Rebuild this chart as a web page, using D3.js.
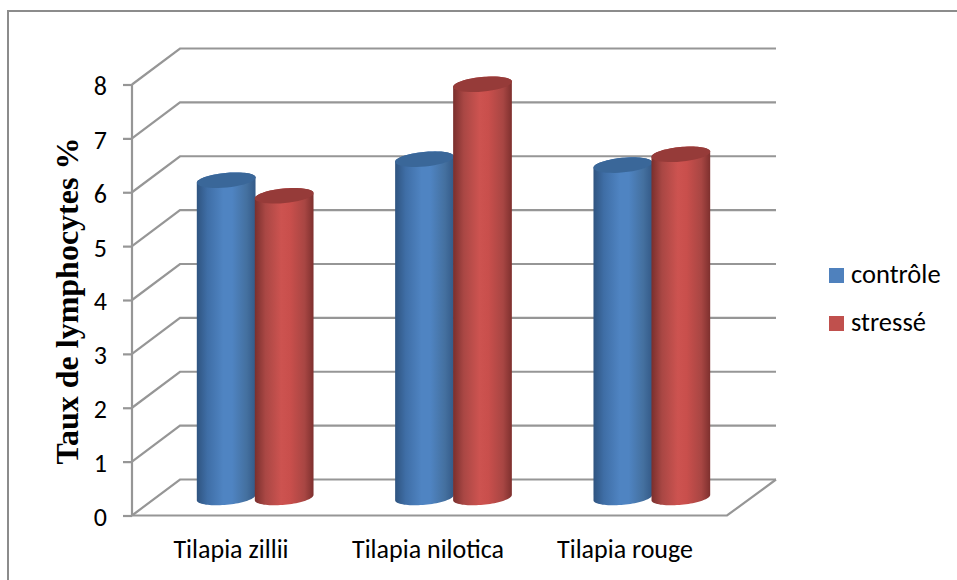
<!DOCTYPE html>
<html>
<head>
<meta charset="utf-8">
<script src="https://cdn.jsdelivr.net/npm/d3@7/dist/d3.min.js"></script>
<style>
html,body{margin:0;padding:0;background:#fff;}
svg{display:block;}
</style>
</head>
<body>
<svg id="chart" width="957" height="580"></svg>
<script>
const categories = ["Tilapia zillii", "Tilapia nilotica", "Tilapia rouge"];
const seriesNames = ["contrôle", "stressé"];
const controle = [5.89, 6.28, 6.17];
const stresse = [5.6, 7.67, 6.37];
const yTicks = [0, 1, 2, 3, 4, 5, 6, 7, 8];

const svg = d3.select("#chart");
const grid = "#969696";
const fontBody = "Carlito, Lato, 'Open Sans', sans-serif";

const y = d3.scaleLinear().domain([0, 8]).range([515.5, 84.5]);
const x = d3.scaleBand().domain(categories).range([132, 727]);
// Category labels sit on a slightly tighter step than the bar groups.
const labelX = d3.scalePoint().domain(categories).range([231, 625]);
// Depth of the floor: back wall sits up and to the right of the front edge.
const depthX = 48, depthY = -36;
// Cylinders stand at mid-depth.
const barDX = 24, barDY = -18;
const barScale = d3.scaleBand().domain(seriesNames).range([0, 116]);
const rx = 29.5, ry = 7.3, tilt = -5.5;

// Chart frame: top and left edges
svg.append("path").attr("d", d3.line()([[8, 580], [8, 11], [957, 11]]))
  .attr("fill", "none").attr("stroke", "#8c8c8c").attr("stroke-width", 2);

// Gradients for the cylinders' shading
const defs = svg.append("defs");
const palettes = [
  {id: "blue", stops: ["#2f5480", "#3f6ea6", "#4f84c2", "#4f84c2", "#44709f", "#345a88"]},
  {id: "red", stops: ["#7a2f2d", "#a94744", "#cd5350", "#c94f4c", "#a84643", "#7e302e"]}
];
const offsets = [0, .18, .45, .6, .85, 1];
palettes.forEach(p => {
  const g = defs.append("linearGradient").attr("id", p.id);
  p.stops.forEach((c, i) => g.append("stop").attr("offset", offsets[i]).attr("stop-color", c));
});
const topColors = ["#3a6799", "#963b39"];
const swatchColors = ["#4f81bd", "#c0504d"];

// Walls: horizontal grid lines on the back wall with slanted returns on the side
const g = svg.append("g").attr("fill", "none").attr("stroke", grid).attr("stroke-width", 2.2);
yTicks.forEach(t => {
  const yy = y(t);
  g.append("path").attr("d", d3.line()([
    [x.range()[0], yy],
    [x.range()[0] + depthX, yy + depthY],
    [x.range()[1] + depthX + 1, yy + depthY]
  ]));
});
// Floor and axis
g.append("path").attr("d", d3.line()([
  [x.range()[1] + depthX + 1, y(0) + depthY],
  [x.range()[1], y(0)],
  [x.range()[0], y(0)]
]));
g.append("path").attr("d", d3.line()([[x.range()[0], y(0)], [x.range()[0], y(8)]]));

// Y axis, drawn by d3 and restyled to the 3D wall
const yAxis = d3.axisLeft(y).tickValues(yTicks).tickSize(9).tickPadding(16).tickFormat(d3.format("d"));
const ax = svg.append("g").attr("transform", `translate(${x.range()[0]},0)`).call(yAxis);
ax.select(".domain").remove();
ax.selectAll("line").attr("stroke", grid).attr("stroke-width", 2.2);
ax.selectAll("text").attr("fill", "#000").attr("dy", "0.38em")
  .style("font-family", fontBody).style("font-size", "26px");

// Tilted ellipse outline between two parametric angles, used for cylinder ends
const a = tilt * Math.PI / 180;
function ellipsePts(cx, cy, t0, t1) {
  return d3.range(0, 41).map(k => {
    const t = t0 + (t1 - t0) * k / 40;
    const ex = rx * Math.cos(t), ey = ry * Math.sin(t);
    return [cx + ex * Math.cos(a) - ey * Math.sin(a), cy + ex * Math.sin(a) + ey * Math.cos(a)];
  });
}

// Cylinders
const bars = [];
categories.forEach((c, i) => {
  seriesNames.forEach((s, j) => {
    bars.push({cat: c, s, j, value: (j === 0 ? controle : stresse)[i]});
  });
});
const groupOffset = (x.bandwidth() - barScale.range()[1]) / 2;
const barG = svg.append("g");
bars.forEach(d => {
  const cx = x(d.cat) + groupOffset + barScale(d.s) + barScale.bandwidth() / 2 + barDX;
  const topY = y(d.value) + barDY, botY = y(0) + barDY;
  // Body: along the front of the base, then back over the far rim of the top
  const body = ellipsePts(cx, botY, Math.PI, 0).concat(ellipsePts(cx, topY, 0, -Math.PI));
  barG.append("path").attr("d", d3.line()(body) + "Z")
    .attr("fill", `url(#${d.j === 0 ? "blue" : "red"})`);
  barG.append("path").attr("d", d3.line()(ellipsePts(cx, topY, 0, 2 * Math.PI)) + "Z")
    .attr("fill", topColors[d.j]);
});

// Category labels
svg.append("g").selectAll("text").data(categories).join("text")
  .attr("x", d => labelX(d))
  .attr("y", 558)
  .attr("text-anchor", "middle")
  .style("font-family", fontBody).style("font-size", "26px").attr("fill", "#000")
  .text(d => d);

// Axis title
svg.append("text").attr("transform", "translate(78,301) rotate(-90)")
  .attr("text-anchor", "middle")
  .style("font-family", "'Liberation Serif', serif").style("font-weight", "bold").style("font-size", "32px")
  .attr("fill", "#000").text("Taux de lymphocytes %");

// Legend
const legend = svg.append("g").selectAll("g").data(seriesNames).join("g")
  .attr("transform", (d, i) => `translate(829,${268 + i * 48})`);
legend.append("rect").attr("width", 15).attr("height", 15).attr("fill", (d, i) => swatchColors[i]);
legend.append("text").attr("x", 22).attr("y", 15)
  .style("font-family", fontBody).style("font-size", "26.5px").attr("fill", "#000").text(d => d);
</script>
</body>
</html>
